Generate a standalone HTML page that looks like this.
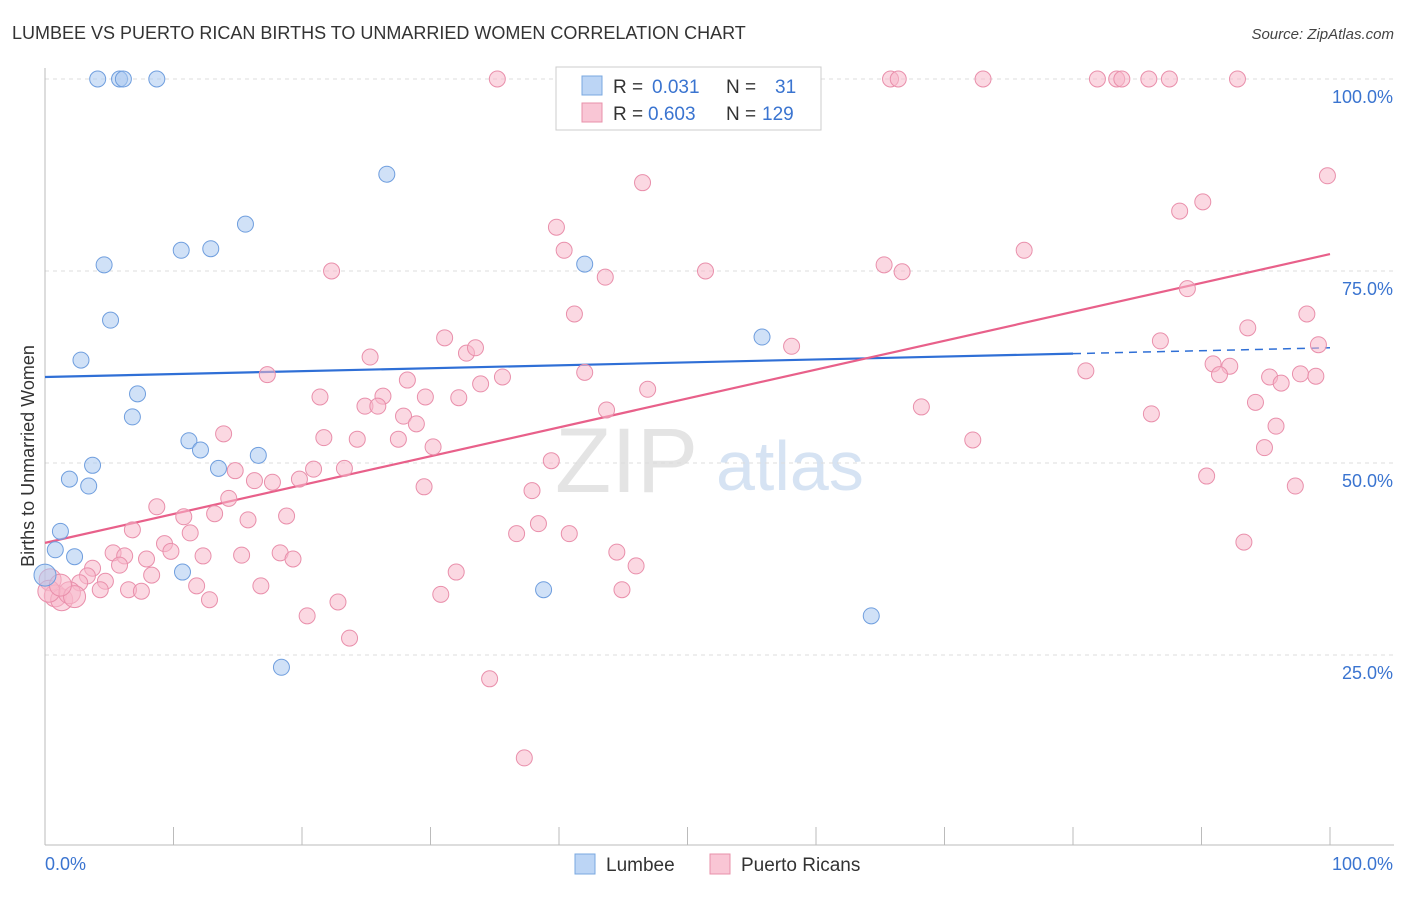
<!DOCTYPE html>
<html><head><meta charset="utf-8"><style>
body{margin:0;background:#fff;font-family:"Liberation Sans",sans-serif;}
svg text{font-family:"Liberation Sans",sans-serif;}
</style></head><body>
<svg id="chart" width="1406" height="892" xmlns="http://www.w3.org/2000/svg">
<text x="12" y="39" font-size="18" fill="#333">LUMBEE VS PUERTO RICAN BIRTHS TO UNMARRIED WOMEN CORRELATION CHART</text>
<text x="1394" y="39" font-size="15" fill="#444" text-anchor="end" font-style="italic">Source: ZipAtlas.com</text>
<g>
<text x="555" y="492" font-family="Liberation Serif" font-size="92" fill="#e4e4e4">ZIP</text>
<text x="716" y="490" font-size="70" fill="#d6e3f3">atlas</text>
</g>
<g id="grid"></g>
<g id="axes"></g>
<g id="lines"></g>
<g id="pts"></g>
<text transform="translate(34,456) rotate(-90)" font-size="18" fill="#333" text-anchor="middle">Births to Unmarried Women</text>
<g>
<rect x="556" y="67" width="265" height="63" fill="#fff" stroke="#ccc"/>
<rect x="582" y="76" width="20" height="19" fill="#bcd5f5" stroke="#7aa8e0"/>
<rect x="582" y="103" width="20" height="19" fill="#f9c6d5" stroke="#e890aa"/>
<text x="613" y="93" font-size="19" fill="#333">R =</text><text x="652" y="93" font-size="19" fill="#3a74d0">0.031</text>
<text x="726" y="93" font-size="19" fill="#333">N =</text><text x="775" y="93" font-size="19" fill="#3a74d0">31</text>
<text x="613" y="120" font-size="19" fill="#333">R =</text><text x="648" y="120" font-size="19" fill="#3a74d0">0.603</text>
<text x="726" y="120" font-size="19" fill="#333">N =</text><text x="762" y="120" font-size="19" fill="#3a74d0">129</text>
</g>
<g>
<rect x="575" y="854" width="20" height="20" fill="#bcd5f5" stroke="#7aa8e0"/>
<text x="606" y="871" font-size="19" fill="#333">Lumbee</text>
<rect x="710" y="854" width="20" height="20" fill="#f9c6d5" stroke="#e890aa"/>
<text x="741" y="871" font-size="19" fill="#333">Puerto Ricans</text>
</g>
</svg>
<script>
const blueX=[4.1,5.8,6.1,8.7,54.1,26.6,15.6,10.6,12.9,4.6,42.0,5.1,2.8,7.2,6.8,55.8,11.2,12.1,16.6,13.5,3.7,1.9,3.4,1.2,0.8,2.3,0,10.7,38.8,64.3,18.4];
const blueY=[100,100,100,100,100,87.6,81.1,77.7,77.9,75.8,75.9,68.6,63.4,59.0,56.0,66.4,52.9,51.7,51.0,49.3,49.7,47.9,47.0,41.1,38.7,37.8,35.4,35.8,33.5,30.1,23.4];
const pinkX=[35.2,65.8,66.4,73.0,81.9,83.4,83.8,85.9,87.5,92.8,46.5,39.8,40.4,43.6,22.3,51.4,65.3,66.7,76.2,88.3,90.1,99.8,88.9,93.6,98.2,99.1,86.8,58.1,41.2,31.1,32.8,33.5,25.3,17.3,28.2,26.3,21.4,29.6,32.2,33.9,35.6,42.0,46.9,81.0,90.9,92.2,91.4,95.3,96.2,97.7,98.9,94.2,95.8,94.9,86.1,68.2,43.7,27.9,28.9,24.9,25.9,21.7,24.3,27.5,30.2,39.4,13.9,14.8,20.9,23.3,19.8,16.3,17.7,29.5,37.9,90.4,97.3,72.2,14.3,8.7,13.2,10.8,15.8,18.8,6.8,11.3,9.3,9.8,5.3,6.2,7.9,12.3,15.3,18.3,19.3,5.8,3.7,8.3,3.3,2.7,4.7,6.5,7.5,4.3,11.8,16.8,12.8,20.4,22.8,23.7,36.7,38.4,40.8,44.5,46.0,32.0,30.8,44.9,34.6,37.3,93.3,0.4,0.8,1.3,1.9,2.3,0.3,1.2];
const pinkY=[100,100,100,100,100,100,100,100,100,100,86.5,80.7,77.7,74.2,75.0,75.0,75.8,74.9,77.7,82.8,84.0,87.4,72.7,67.6,69.4,65.4,65.9,65.2,69.4,66.3,64.3,65.0,63.8,61.5,60.8,58.7,58.6,58.6,58.5,60.3,61.2,61.8,59.6,62.0,62.9,62.6,61.5,61.2,60.4,61.6,61.3,57.9,54.8,52.0,56.4,57.3,56.9,56.1,55.1,57.4,57.4,53.3,53.1,53.1,52.1,50.3,53.8,49.0,49.2,49.3,47.9,47.7,47.5,46.9,46.4,48.3,47.0,53.0,45.4,44.3,43.4,43.0,42.6,43.1,41.3,40.9,39.5,38.5,38.3,37.9,37.5,37.9,38.0,38.3,37.5,36.7,36.3,35.4,35.3,34.4,34.6,33.5,33.3,33.5,34.0,34.0,32.2,30.1,31.9,27.2,40.8,42.1,40.8,38.4,36.6,35.8,32.9,33.5,21.9,11.6,39.7,34.8,32.7,32.2,33.1,32.6,33.3,34.1];
const blueTrend=[61.2,65.0];
const pinkTrend=[39.6,77.2];
const yTicks=[25,50,75,100];
const yTickLabels=["25.0%","50.0%","75.0%","100.0%"];
const NS="http://www.w3.org/2000/svg";
const sx=v=>45+v*12.85, sy=v=>847-v*7.68;
function mk(t,a,p){const e=document.createElementNS(NS,t);for(const k in a)e.setAttribute(k,a[k]);p.appendChild(e);return e;}
const grid=document.getElementById('grid'),axes=document.getElementById('axes'),lines=document.getElementById('lines'),pts=document.getElementById('pts');
yTicks.forEach((t,i)=>{
 const g=mk('line',{x1:45,x2:1394,y1:sy(t),y2:sy(t),stroke:'#ddd','stroke-dasharray':'4,4'},grid);
 
 
 const tx=mk('text',{x:1393,y:sy(t)+24,'font-size':18,fill:'#3a74d0','text-anchor':'end'},axes);
 tx.textContent=yTickLabels[i];
 
 
});
mk('line',{x1:45,x2:45,y1:68,y2:845,stroke:'#bbb'},axes);
mk('line',{x1:45,x2:1394,y1:845,y2:845,stroke:'#bbb'},axes);
for(let i=0;i<=10;i++){const tk=mk('line',{x1:sx(i*10),x2:sx(i*10),y1:827,y2:845,stroke:'#bbb'},axes);
 
 }
const xl=mk('text',{x:45,y:870,'font-size':18,fill:'#3a74d0'},axes);xl.textContent='0.0%';


const xr=mk('text',{x:1393,y:870,'font-size':18,fill:'#3a74d0','text-anchor':'end'},axes);xr.textContent='100.0%';


function pt(x,y,fill,stroke,name,r){const c=mk('circle',{cx:sx(x),cy:sy(y),r:r,fill:fill,'fill-opacity':0.55,stroke:stroke,'stroke-width':1},pts);
 
 }
pinkX.forEach((x,i)=>pt(x,pinkY[i],'#f7b8cb','#e98fab','pink-point',(x<2.5&&pinkY[i]<35)?11:8));
blueX.forEach((x,i)=>pt(x,blueY[i],'#a9c8f0','#6f9ede','blue-point',x===0?11:8));
const bAt=v=>blueTrend[0]+(blueTrend[1]-blueTrend[0])*v/100, pAt=v=>pinkTrend[0]+(pinkTrend[1]-pinkTrend[0])*v/100;
const l1=mk('line',{x1:sx(0),y1:sy(bAt(0)),x2:sx(80),y2:sy(bAt(80)),stroke:'#2f6fd6','stroke-width':2.2},lines);


const l2=mk('line',{x1:sx(80),y1:sy(bAt(80)),x2:sx(100),y2:sy(bAt(100)),stroke:'#2f6fd6','stroke-width':1.5,'stroke-dasharray':'8,6'},lines);


const l3=mk('line',{x1:sx(0),y1:sy(pAt(0)),x2:sx(100),y2:sy(pAt(100)),stroke:'#e8608a','stroke-width':2.2},lines);


</script>
</body></html>
